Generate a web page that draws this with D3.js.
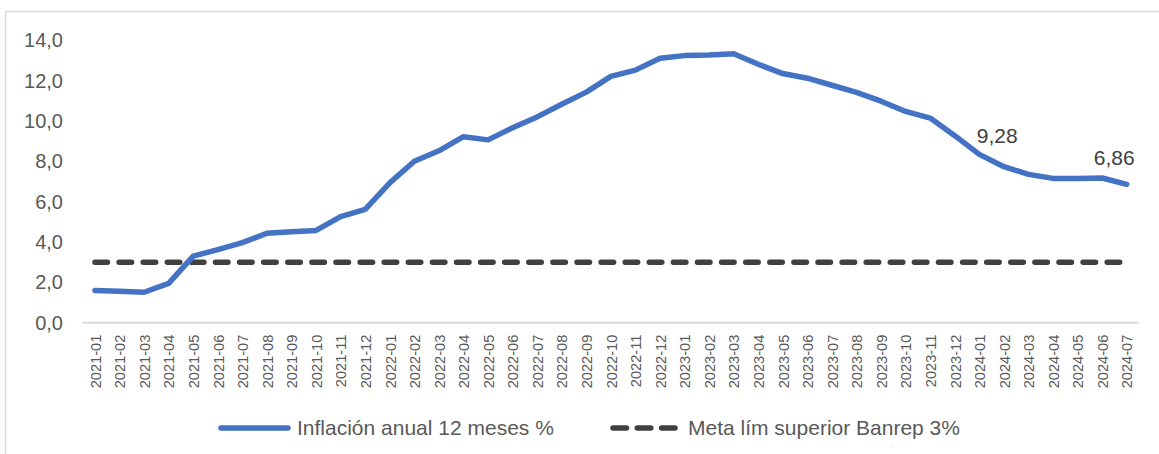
<!DOCTYPE html>
<html>
<head>
<meta charset="utf-8">
<script src="https://cdn.jsdelivr.net/npm/d3@7"></script>
<style>
  body { margin: 0; background: #fff; }
  svg { display: block; font-family: "Liberation Sans", Arial, sans-serif; }
  .tick text { fill: #595959; }
</style>
</head>
<body>
<svg id="chart" width="1159" height="454"></svg>
<script>
// months shown on the x axis
var months = [
  '2021-01','2021-02','2021-03','2021-04','2021-05','2021-06','2021-07','2021-08','2021-09','2021-10','2021-11','2021-12',
  '2022-01','2022-02','2022-03','2022-04','2022-05','2022-06','2022-07','2022-08','2022-09','2022-10','2022-11','2022-12',
  '2023-01','2023-02','2023-03','2023-04','2023-05','2023-06','2023-07','2023-08','2023-09','2023-10','2023-11','2023-12',
  '2024-01','2024-02','2024-03','2024-04','2024-05','2024-06','2024-07'
];

// annual inflation, 12 months %
var inflacion = [
  1.60, 1.56, 1.51, 1.95, 3.30, 3.63, 3.97, 4.44, 4.51, 4.58, 5.26, 5.62,
  6.94, 8.01, 8.53, 9.23, 9.07, 9.67, 10.21, 10.84, 11.44, 12.22, 12.53, 13.12,
  13.25, 13.28, 13.34, 12.82, 12.36, 12.13, 11.78, 11.43, 10.99, 10.48, 10.15, 9.28,
  8.35, 7.74, 7.36, 7.16, 7.16, 7.18, 6.86
];

// upper target limit
var meta = months.map(function() { return 3; });

var yTicks = [0, 2, 4, 6, 8, 10, 12, 14];
var labelled = ['2023-12', '2024-07'];
var seriesNames = ['Inflación anual 12 meses %', 'Meta lím superior Banrep 3%'];

var svg = d3.select('#chart');
var fmt = function(v, d) { return v.toFixed(d).replace('.', ','); };

// outer frame (cut at right/bottom like the source)
svg.append('rect')
  .attr('x', 5.5).attr('y', 11.5)
  .attr('width', 1160).attr('height', 460)
  .attr('fill', 'none').attr('stroke', '#d9d9d9').attr('stroke-width', 1.5);

var x = d3.scalePoint().domain(months).range([82.7, 1139]).padding(0.5);
var y = d3.scaleLinear().domain([0, 14]).range([322.7, 40.5]);

// y axis labels only
var yAxis = svg.append('g')
  .attr('transform', 'translate(83,0)')
  .call(d3.axisLeft(y).tickValues(yTicks).tickSize(0).tickPadding(20)
    .tickFormat(function(d) { return fmt(d, 1); }));
yAxis.select('.domain').remove();
yAxis.selectAll('text').style('font-size', '20px');

// x axis
var xAxis = svg.append('g')
  .attr('transform', 'translate(0,' + y(0) + ')')
  .call(d3.axisBottom(x).tickSize(0).tickSizeOuter(0));
xAxis.select('.domain')
  .attr('d', 'M82.7,0H1139')
  .attr('stroke', '#d9d9d9').attr('stroke-width', 2);
xAxis.selectAll('text')
  .style('font-size', '14.6px')
  .attr('text-anchor', 'end')
  .attr('transform', 'rotate(-90)')
  .attr('x', -12).attr('y', 0).attr('dy', '0.36em');

// target line
var line = d3.line()
  .x(function(d, i) { return x(months[i]); })
  .y(function(d) { return y(d); });

svg.append('path')
  .datum(meta)
  .attr('d', line)
  .attr('fill', 'none')
  .attr('stroke', '#404040')
  .attr('stroke-width', 5.5)
  .attr('stroke-linecap', 'round')
  .attr('stroke-dasharray', '12.5 11.6');

svg.append('path')
  .datum(inflacion)
  .attr('d', line)
  .attr('fill', 'none')
  .attr('stroke', '#4472c4')
  .attr('stroke-width', 5.5)
  .attr('stroke-linejoin', 'round')
  .attr('stroke-linecap', 'round');

// data labels
var labelPos = { '2023-12': [22, 7.7, 'start'], '2024-07': [8, -19.4, 'end'] };
labelled.forEach(function(m) {
  var i = months.indexOf(m), p = labelPos[m];
  svg.append('text')
    .attr('x', x(m) + p[0])
    .attr('y', y(inflacion[i]) + p[1])
    .attr('text-anchor', p[2])
    .attr('fill', '#404040')
    .style('font-size', '21px')
    .text(fmt(inflacion[i], 2));
});

// legend
var lg = svg.append('g').attr('transform', 'translate(0,428)');
lg.append('line')
  .attr('x1', 221).attr('x2', 288)
  .attr('stroke', '#4472c4').attr('stroke-width', 5.5).attr('stroke-linecap', 'round');
lg.append('text').attr('x', 297).attr('dy', '0.35em')
  .attr('fill', '#595959').style('font-size', '21px').text(seriesNames[0]);
lg.append('line')
  .attr('x1', 613).attr('x2', 675)
  .attr('stroke', '#404040').attr('stroke-width', 5.5).attr('stroke-linecap', 'round')
  .attr('stroke-dasharray', '13.5 10.8');
lg.append('text').attr('x', 688).attr('dy', '0.35em')
  .attr('fill', '#595959').style('font-size', '21px').text(seriesNames[1]);
</script>
</body>
</html>
